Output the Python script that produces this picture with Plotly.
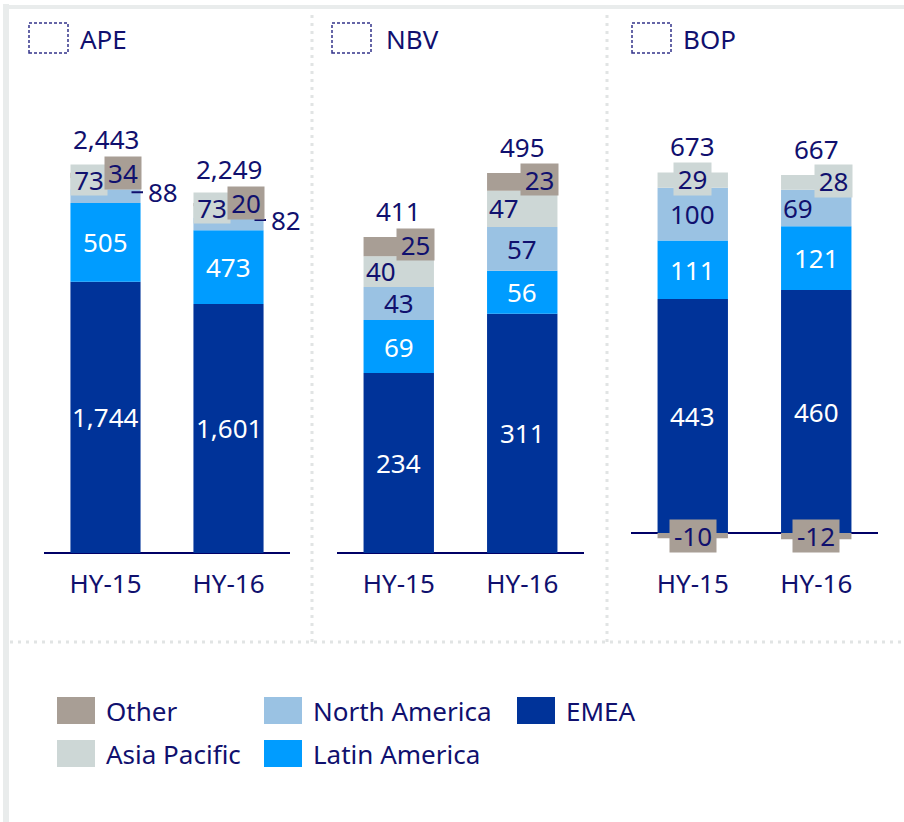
import plotly.graph_objects as go

# ---------------- data ----------------
periods = ["HY-15", "HY-16"]
panels = ["APE", "NBV", "BOP"]
series = ["EMEA", "Latin America", "North America", "Asia Pacific", "Other"]
colors = ["#003399", "#009cff", "#9ac2e3", "#cdd7d6", "#a89e95"]

ape_emea = [1744, 1601]
ape_latin = [505, 473]
ape_north = [88, 82]
ape_asia = [73, 73]
ape_other = [34, 20]
ape_total = [2443, 2249]

nbv_emea = [234, 311]
nbv_latin = [69, 56]
nbv_north = [43, 57]
nbv_asia = [40, 47]
nbv_other = [25, 23]
nbv_total = [411, 495]

bop_emea = [443, 460]
bop_latin = [111, 121]
bop_north = [100, 69]
bop_asia = [29, 28]
bop_other = [-10, -12]
bop_total = [673, 667]

values = {
    "APE": [ape_emea, ape_latin, ape_north, ape_asia, ape_other],
    "NBV": [nbv_emea, nbv_latin, nbv_north, nbv_asia, nbv_other],
    "BOP": [bop_emea, bop_latin, bop_north, bop_asia, bop_other],
}
totals = {"APE": ape_total, "NBV": nbv_total, "BOP": bop_total}

# ---------------- layout helpers ----------------
W, H = 904, 822
NAVY = "#10106e"
FONT = "Noto Sans"
FS = 26


def px(x):
    return x / W


def py(y):
    return 1 - y / H


geo = {
    "APE": dict(x0=44, x1=290, base=553, scale=0.1556, icon=29, title=78, tot_shift=34),
    "NBV": dict(x0=337, x1=584, base=553, scale=0.769, icon=332, title=384, tot_shift=26),
    "BOP": dict(x0=631, x1=878, base=533, scale=0.528, icon=632, title=681, tot_shift=26),
}
DOM_TOP, DOM_BOT = 20, 600

# label placement tweaks: (panel, series) or (panel, series, index)
place = {
    ("APE", "North America"): dict(leader=True),
    ("APE", "Asia Pacific"): dict(xshift=-17, yshift=4, box=(36, 30)),
    ("APE", "Other"): dict(xshift=17, yshift=2, box=(36, 32)),
    ("NBV", "Asia Pacific"): dict(xshift=-18, yshift=1),
    ("NBV", "Other"): dict(xshift=17, yshift=2, box=(37, 31)),
    ("BOP", "Asia Pacific", 0): dict(yshift=1, box=(37, 32)),
    ("BOP", "Asia Pacific", 1): dict(xshift=17, yshift=1, box=(37, 32)),
    ("BOP", "North America", 1): dict(xshift=-18),
    ("BOP", "Other"): dict(box=(46, 32)),
}

fig = go.Figure()
annotations = []
shapes = []
layout_axes = {}

for i, p in enumerate(panels, start=1):
    g = geo[p]
    xa, ya = f"x{i}", f"y{i}"
    for s, c, vals in zip(series, colors, values[p]):
        fig.add_trace(go.Bar(
            x=periods, y=vals, name=s, marker=dict(color=c, line=dict(width=0)),
            xaxis=xa, yaxis=ya, showlegend=False, hoverinfo="skip",
        ))
    yr = [-(DOM_BOT - g["base"]) / g["scale"], (g["base"] - DOM_TOP) / g["scale"]]
    layout_axes[f"xaxis{i}"] = dict(
        domain=[px(g["x0"]), px(g["x1"])], range=[-0.5, 1.5], type="category",
        anchor="free", position=py(553), showline=False, showgrid=False,
        zeroline=False, ticks="", ticklabelstandoff=13,
        tickfont=dict(family=FONT, size=FS, color=NAVY), fixedrange=True,
    )
    layout_axes[f"yaxis{i}"] = dict(
        domain=[py(DOM_BOT), py(DOM_TOP)], range=yr, anchor=xa,
        showticklabels=False, showgrid=False, ticks="", showline=False,
        zeroline=True, zerolinecolor="#000066", zerolinewidth=2, fixedrange=True,
    )

    # segment labels
    for j, per in enumerate(periods):
        pos, neg = 0, 0
        for s, vals in zip(series, values[p]):
            v = vals[j]
            if v >= 0:
                mid = pos + v / 2
                pos += v
            else:
                mid = neg + v / 2
                neg += v
            cfg = place.get((p, s, j), place.get((p, s), {}))
            white = s in ("EMEA", "Latin America")
            txtcol = "white" if white else NAVY
            a = dict(x=per, y=mid, xref=xa, yref=ya, text=f"{v:,}",
                     font=dict(family=FONT, size=FS, color=txtcol),
                     xshift=cfg.get("xshift", 0), yshift=cfg.get("yshift", 0),
                     showarrow=False)
            if cfg.get("leader"):
                a.update(showarrow=True, ax=31, ay=0, arrowhead=0, arrowwidth=2,
                         arrowcolor=NAVY, xshift=26, yshift=4, borderpad=4)
            if "box" in cfg:
                bw, bh = cfg["box"]
                a.update(bgcolor=colors[series.index(s)], width=bw, height=bh,
                         borderpad=0, valign="middle")
            annotations.append(a)
        # total
        annotations.append(dict(
            x=per, y=pos, xref=xa, yref=ya, text=f"{totals[p][j]:,}",
            font=dict(family=FONT, size=FS, color=NAVY), showarrow=False,
            yshift=g["tot_shift"]))

    # panel title + dotted icon
    annotations.append(dict(
        x=px(g["title"]), y=py(39), xref="paper", yref="paper", xanchor="left",
        yanchor="middle", text=p, showarrow=False,
        font=dict(family=FONT, size=FS, color=NAVY)))
    shapes.append(dict(type="rect", xref="paper", yref="paper",
                       x0=px(g["icon"]), x1=px(g["icon"] + 39), y0=py(53), y1=py(23),
                       line=dict(color="#33338a", width=1.5, dash="3px,2px")))

# frame
FRAME = "#e9ecec"
shapes.append(dict(type="rect", xref="paper", yref="paper", x0=px(3), x1=px(9),
                   y0=0, y1=py(4), fillcolor=FRAME, line=dict(width=0)))
shapes.append(dict(type="rect", xref="paper", yref="paper", x0=px(3), x1=1,
                   y0=py(9), y1=py(5), fillcolor=FRAME, line=dict(width=0)))
# dotted separators
SEP = dict(color="#e1e4e4", width=3, dash="3px,5px")
for xs in (312, 607):
    shapes.append(dict(type="line", xref="paper", yref="paper", x0=px(xs), x1=px(xs),
                       y0=py(642), y1=py(12), line=SEP))
shapes.append(dict(type="line", xref="paper", yref="paper", x0=px(10), x1=1,
                   y0=py(642), y1=py(642), line=SEP))

# legend (column-major, 2 rows)
leg_cols = [57, 264, 517]
leg_rows = [697, 740]
leg_order = list(reversed(series))
for k, s in enumerate(leg_order):
    cx = leg_cols[k // 2]
    ry = leg_rows[k % 2]
    c = colors[series.index(s)]
    shapes.append(dict(type="rect", xref="paper", yref="paper",
                       x0=px(cx), x1=px(cx + 38), y0=py(ry + 27), y1=py(ry),
                       fillcolor=c, line=dict(width=0)))
    annotations.append(dict(
        x=px(cx + 47), y=py(ry + 14), xref="paper", yref="paper", xanchor="left",
        yanchor="middle", text=s, showarrow=False,
        font=dict(family=FONT, size=FS, color=NAVY)))

fig.update_layout(
    width=W, height=H, autosize=False,
    margin=dict(l=0, r=0, t=0, b=0),
    paper_bgcolor="white", plot_bgcolor="white",
    barmode="relative", bargap=0.43,
    showlegend=False,
    annotations=annotations, shapes=shapes,
    font=dict(family=FONT, color=NAVY),
    **layout_axes,
)

fig.write_html("out.html", config={"displayModeBar": False},
               post_script="document.body.style.margin='0';")
